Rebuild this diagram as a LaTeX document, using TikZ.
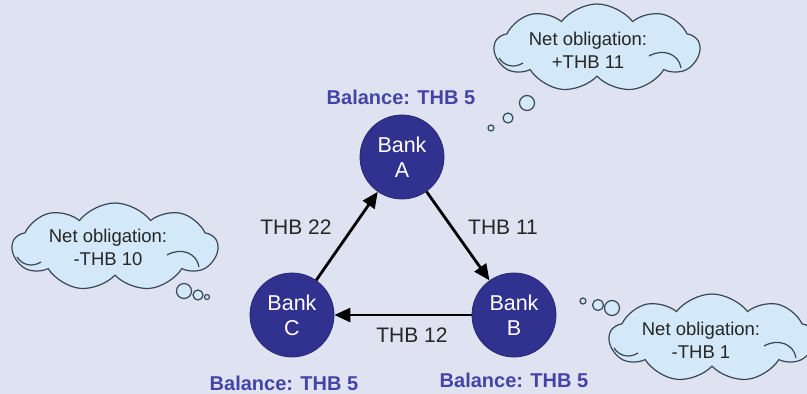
\documentclass[tikz,border=0pt]{standalone}
\usepackage{fontspec}
\setmainfont{Liberation Sans}
\usetikzlibrary{shapes.symbols,arrows.meta}
\definecolor{bg}{HTML}{DFE3F1}
\definecolor{bankblue}{HTML}{31318F}
\definecolor{baltext}{HTML}{4444A6}
\definecolor{cloudfill}{HTML}{D3E8F8}
\definecolor{cloudline}{HTML}{3A4656}
\tikzset{
  bank/.style={circle,fill=bankblue,draw=bankblue!80!black,line width=0.8pt,minimum size=84pt,inner sep=0pt,text=white,font=\fontsize{21.5}{25}\selectfont,align=center},
  bal/.style={text=baltext,font=\fontsize{20}{23}\selectfont\bfseries},
  amt/.style={text=black!85,font=\fontsize{21}{24}\selectfont},
  flow/.style={line width=2.8pt,-{Triangle[length=16pt,width=14pt]}},
  thought/.style={cloud,cloud puffs=9,cloud puff arc=105,aspect=2.3,fill=cloudfill,draw=cloudline,line width=1.2pt,minimum width=205pt,minimum height=88pt,inner sep=0pt},
  cloudtext/.style={align=center,font=\fontsize{18.5}{23}\selectfont,text=black!85},
  bub/.style={circle,fill=cloudfill,draw=cloudline,line width=1.2pt,inner sep=0pt},
  curl/.style={draw=cloudline,line width=1.2pt}
}
\newcommand\cloudcurls[1]{%
  \begin{scope}[shift={(#1.center)}]
    \path[curl] (-98,10) .. controls (-92,19) and (-82,20) .. (-74,15);
    \path[curl] (52,8) .. controls (66,0) and (82,6) .. (84,20);
  \end{scope}}
\begin{document}
\begin{tikzpicture}[x=1pt,y=-1pt]
\fill[bg] (0,0) rectangle (807,394);
\useasboundingbox (0,0) rectangle (807,394);

\node[bank] (A) at (402,157) {Bank\\A};
\node[bank] (B) at (514,315) {Bank\\B};
\node[bank] (C) at (292,315) {Bank\\C};

\draw[flow] (A) -- (B);
\draw[flow] (B) -- (C);
\draw[flow] (C) -- (A);

\node[amt] (l22) at (296,227) {THB 22};
\node[amt] (l11) at (503,227) {THB 11};
\node[amt] (l12) at (412,335) {THB 12};

\node[bal] (balA) at (401,97) {Balance: THB 5};
\node[bal] (balC) at (284,383) {Balance: THB 5};
\node[bal] (balB) at (514,380) {Balance: THB 5};

% top-right thought
\node[thought] (cA) at (597,48) {};
\cloudcurls{cA}
\node[cloudtext] (tA) at (588,50) {Net obligation:\\+THB 11};
\node[bub,minimum size=15pt] (cA1) at (527,103) {};
\node[bub,minimum size=10pt] (cA2) at (508,118) {};
\node[bub,minimum size=6pt] (cA3) at (491,128) {};

% left thought
\node[thought] (cC) at (115,247) {};
\cloudcurls{cC}
\node[cloudtext] (tC) at (108,247) {Net obligation:\\-THB 10};
\node[bub,minimum size=15pt] (cC1) at (184,291) {};
\node[bub,minimum size=10pt] (cC2) at (198,295) {};
\node[bub,minimum size=5pt] (cC3) at (207,297) {};

% right thought
\node[thought] (cB) at (712,338) {};
\cloudcurls{cB}
\node[cloudtext] (tB) at (701,340) {Net obligation:\\-THB 1};
\node[bub,minimum size=15pt] (cB1) at (612,308) {};
\node[bub,minimum size=11pt] (cB2) at (598,305) {};
\node[bub,minimum size=6pt] (cB3) at (583,301) {};
\end{tikzpicture}
\end{document}
